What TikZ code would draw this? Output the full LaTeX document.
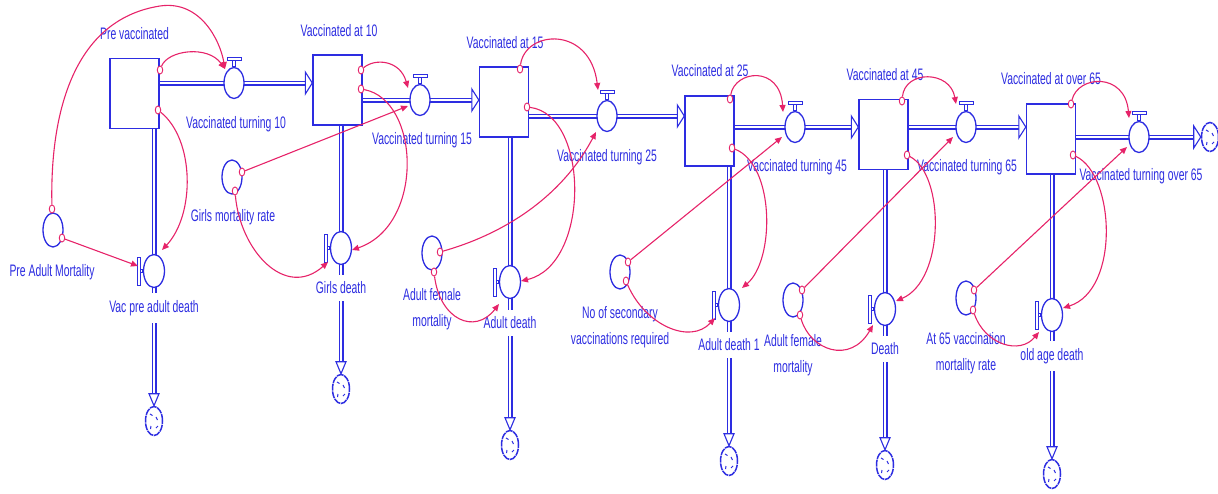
\documentclass[tikz,border=0pt]{standalone}
\usepackage{fontspec}
\setmainfont{Liberation Sans}
\usepackage{graphicx}
\usetikzlibrary{arrows.meta,shapes.geometric,calc,backgrounds}
\definecolor{sfblue}{RGB}{45,45,225}
\definecolor{sfpink}{RGB}{230,35,105}
% labels are set in a vertically stretched sans face
\newcommand{\tall}[1]{\scalebox{1}[1.6]{#1}}
\newcommand{\twolines}[2]{\tall{\begin{tabular}{@{}c@{}}#1\\#2\end{tabular}}}
% valve handle on top of a horizontal flow
\newcommand{\topT}[1]{%
  \draw[handle] ([xshift=-1.5pt]#1.north) rectangle ([xshift=1.5pt,yshift=6pt]#1.north);
  \draw[handle] ([xshift=-7pt,yshift=6pt]#1.north) rectangle ([xshift=7pt,yshift=9pt]#1.north);}
% valve handle on the left of a vertical outflow
\newcommand{\sideT}[1]{%
  \draw[handle] ([xshift=-2.5pt,yshift=-1.5pt]#1.west) rectangle ([yshift=1.5pt]#1.west);
  \draw[handle] ([xshift=-5.5pt,yshift=-14pt]#1.west) rectangle ([xshift=-2.5pt,yshift=14pt]#1.west);}
% little strokes inside a source/sink cloud
\newcommand{\cloudmarks}[1]{%
  \draw[sfblue,line width=1pt] ([xshift=-4pt,yshift=7pt]#1.center) -- ++(2.5,1.5);
  \draw[sfblue,line width=1pt] ([xshift=2pt,yshift=4pt]#1.center) -- ++(1.5,3);
  \draw[sfblue,line width=1pt] ([xshift=-3pt,yshift=-5pt]#1.center) -- ++(-0.5,3);
  \draw[sfblue,line width=1pt] ([xshift=2pt,yshift=-7pt]#1.center) -- ++(2,-2);}
% open arrow tips of the flow pipes
\newcommand{\rtip}[1]{\draw[tip] (#1) -- ++(-7,-11) -- ++(0,22) -- cycle;}
\newcommand{\dtip}[1]{\draw[tip] (#1) -- ++(-5,-12) -- ++(10,0) -- cycle;}

\begin{document}
\begin{tikzpicture}[x=1pt,y=-1pt,
  stock/.style={rectangle,draw=sfblue,line width=1.4pt,fill=white,minimum width=49pt,minimum height=70pt,inner sep=0pt},
  valve/.style={ellipse,draw=sfblue,line width=1.3pt,fill=white,minimum width=20pt,minimum height=31pt,inner sep=0pt},
  dvalve/.style={valve,minimum width=21pt,minimum height=33pt},
  conv/.style={valve,minimum height=34pt},
  cloud/.style={ellipse,draw=sfblue,line width=1.5pt,fill=white,minimum width=17pt,minimum height=29pt,inner sep=0pt,dash pattern=on 7pt off 0.8pt},
  pipe/.style={draw=sfblue,line width=1.3pt,double=white,double distance=2.4pt},
  tip/.style={draw=sfblue,line width=1.1pt,fill=white,line join=miter},
  handle/.style={draw=sfblue,line width=1pt,fill=white},
  origin/.style={ellipse,draw=sfpink,line width=0.9pt,fill=white,minimum width=5.5pt,minimum height=8pt,inner sep=0pt},
  link/.style={draw=sfpink,line width=1.1pt,-{Triangle[length=7pt,width=6pt]}},
  lbl/.style={text=sfblue,fill=white,inner xsep=1pt,inner ysep=5pt,font=\fontsize{10.4}{16.2}\selectfont},
  lblc/.style={lbl,fill=none,inner ysep=0pt}
]
\useasboundingbox (0,0) rectangle (1218,493);

% ---- stocks
\node[stock] (S1) at (134.5,93.5) {};
\node[stock] (S2) at (337.5,90) {};
\node[stock] (S3) at (504,102) {};
\node[stock] (S4) at (709.5,131) {};
\node[stock] (S5) at (883.5,134.5) {};
\node[stock] (S6) at (1051,139) {};

% ---- ageing flows
\node[valve] (V1) at (234,83) {};
\node[valve] (V2) at (420,100) {};
\node[valve] (V3) at (607,116) {};
\node[valve] (V4) at (795,127) {};
\node[valve] (V5) at (966,127) {};
\node[valve] (V6) at (1139,137) {};
\foreach \v in {V1,V2,V3,V4,V5,V6} {\topT{\v}}

% ---- death outflows
\node[dvalve] (D1) at (154,271) {};
\node[dvalve] (D2) at (341,248) {};
\node[dvalve] (D3) at (510,282) {};
\node[dvalve] (D4) at (729,305) {};
\node[dvalve] (D5) at (885,309) {};
\node[dvalve] (D6) at (1052,315) {};
\foreach \d in {D1,D2,D3,D4,D5,D6} {\sideT{\d}}

% ---- sinks
\node[cloud] (K0) at (1210,137) {};
\node[cloud] (K1) at (154,421) {};
\node[cloud] (K2) at (341,389) {};
\node[cloud] (K3) at (510,445) {};
\node[cloud] (K4) at (729,461) {};
\node[cloud] (K5) at (885,465) {};
\node[cloud] (K6) at (1052,474) {};
\foreach \k in {K0,K1,K2,K3,K4,K5,K6} {\cloudmarks{\k}}

% ---- converters
\node[conv] (C1) at (53,230) {};
\node[conv] (C2) at (232,177) {};
\node[conv] (C3) at (432,253) {};
\node[conv] (C4) at (620,272) {};
\node[conv] (C5) at (793,300) {};
\node[conv] (C6) at (966,298) {};

% ---- pipe ends
\coordinate (a1) at (S2.west |- V1);
\coordinate (a2) at (S3.west |- V2);
\coordinate (a3) at (S4.west |- V3);
\coordinate (a4) at (S5.west |- V4);
\coordinate (a5) at (S6.west |- V5);
\coordinate (a6) at (K0.west);

\begin{scope}[on background layer]
  \draw[pipe] (S1.east |- V1) -- ([xshift=-6pt]a1);
  \draw[pipe] (S2.east |- V2) -- ([xshift=-6pt]a2);
  \draw[pipe] (S3.east |- V3) -- ([xshift=-6pt]a3);
  \draw[pipe] (S4.east |- V4) -- ([xshift=-6pt]a4);
  \draw[pipe] (S5.east |- V5) -- ([xshift=-6pt]a5);
  \draw[pipe] (S6.east |- V6) -- ([xshift=-6pt]a6);
  \draw[pipe] (S1.south -| D1) -- ([yshift=11pt]K1.north);
  \draw[pipe] (S2.south -| D2) -- ([yshift=11pt]K2.north);
  \draw[pipe] (S3.south -| D3) -- ([yshift=11pt]K3.north);
  \draw[pipe] (S4.south -| D4) -- ([yshift=11pt]K4.north);
  \draw[pipe] (S5.south -| D5) -- ([yshift=11pt]K5.north);
  \draw[pipe] (S6.south -| D6) -- ([yshift=11pt]K6.north);
\end{scope}
\foreach \a in {a1,a2,a3,a4,a5,a6} {\rtip{\a}}
\foreach \k in {K1,K2,K3,K4,K5,K6} {\dtip{\k.north}}

% ---- labels
\node[lbl] (LS1) at (134.5,34) {\tall{Pre vaccinated}};
\node[lbl] (LS2) at (339,31) {\tall{Vaccinated at 10}};
\node[lbl] (LS3) at (505,43) {\tall{Vaccinated at 15}};
\node[lbl] (LS4) at (710,71) {\tall{Vaccinated at 25}};
\node[lbl] (LS5) at (885,75) {\tall{Vaccinated at 45}};
\node[lbl] (LS6) at (1051,79) {\tall{Vaccinated at over 65}};

\node[lbl] (LV1) at (236,124) {\tall{Vaccinated turning 10}};
\node[lbl] (LV2) at (422,140) {\tall{Vaccinated turning 15}};
\node[lbl] (LV3) at (607,157) {\tall{Vaccinated turning 25}};
\node[lbl] (LV4) at (797,167) {\tall{Vaccinated turning 45}};
\node[lbl] (LV5) at (967,167) {\tall{Vaccinated turning 65}};
\node[lbl] (LV6) at (1141,176) {\tall{Vaccinated turning over 65}};

\node[lbl,inner ysep=7pt] (LD1) at (154,308) {\tall{Vac pre adult death}};
\node[lbl,inner ysep=7pt] (LD2) at (341,288) {\tall{Girls death}};
\node[lbl,inner ysep=7pt] (LD3) at (510,323) {\tall{Adult death}};
\node[lbl,inner ysep=7pt] (LD4) at (729,345) {\tall{Adult death 1}};
\node[lbl,inner ysep=7pt] (LD5) at (885,349) {\tall{Death}};
\node[lbl,inner ysep=7pt] (LD6) at (1052,356) {\tall{old age death}};

\node[lbl] (LC1) at (52,272) {\tall{Pre Adult Mortality}};
\node[lbl] (LC2) at (233,217) {\tall{Girls mortality rate}};
\node[lblc] (LC3) at (432,308.5) {\twolines{Adult female}{mortality}};
\node[lblc] (LC4) at (620,326) {\twolines{No of secondary}{vaccinations required}};
\node[lblc] (LC5) at (793,354.5) {\twolines{Adult female}{mortality}};
\node[lblc] (LC6) at (966,352.5) {\twolines{At 65 vaccination}{mortality rate}};

% ---- connector origins
\node[origin] (o1) at (160,70) {};
\node[origin] (o2) at (52,209) {};
\node[origin] (o3) at (62,238) {};
\node[origin] (o4) at (158,110) {};
\node[origin] (o5) at (242,172) {};
\node[origin] (o6) at (235,191) {};
\node[origin] (o7) at (361,70) {};
\node[origin] (o8) at (361,89) {};
\node[origin] (o9) at (520,69) {};
\node[origin] (o10) at (527,107) {};
\node[origin] (o11) at (440,252) {};
\node[origin] (o12) at (434,272) {};
\node[origin] (o13) at (730,99) {};
\node[origin] (o14) at (732,148) {};
\node[origin] (o15) at (628,262) {};
\node[origin] (o16) at (626,281) {};
\node[origin] (o17) at (902,101) {};
\node[origin] (o18) at (907,155) {};
\node[origin] (o19) at (802,290) {};
\node[origin] (o20) at (800,315) {};
\node[origin] (o21) at (1071,104) {};
\node[origin] (o22) at (1073,155) {};
\node[origin] (o23) at (974,290) {};
\node[origin] (o24) at (973,310) {};

% ---- connector targets at the valves
\coordinate (t1) at (225,69);
\coordinate (t3) at (138,266);
\coordinate (t4) at (162,250);
\coordinate (t5) at (408,106);
\coordinate (t6) at (328,262);
\coordinate (t7) at (408,88);
\coordinate (t8) at (352,250);
\coordinate (t9) at (598,90);
\coordinate (t10) at (521,281);
\coordinate (t11) at (596,132);
\coordinate (t12) at (499,304);
\coordinate (t13) at (783,112);
\coordinate (t14) at (742,288);
\coordinate (t15) at (782,137);
\coordinate (t16) at (715,318);
\coordinate (t17) at (956,104);
\coordinate (t18) at (896,301);
\coordinate (t19) at (953,137);
\coordinate (t20) at (873,325);
\coordinate (t21) at (1129,118);
\coordinate (t22) at (1063,308);
\coordinate (t23) at (1127,147);
\coordinate (t24) at (1039,332);

% ---- connectors
\draw[link] (o1) .. controls (168,50) and (208,45) .. (t1);
\draw[link] (o2) .. controls (50,120) and (70,20) .. (160,6) .. controls (200,0) and (220,40) .. (t1);
\draw[link] (o3) -- (t3);
\draw[link] (o4) .. controls (195,140) and (195,215) .. (t4);
\draw[link] (o5) -- (t5);
\draw[link] (o6) .. controls (240,250) and (285,300) .. (t6);
\draw[link] (o7) .. controls (375,58) and (400,60) .. (t7);
\draw[link] (o8) .. controls (420,100) and (425,225) .. (t8);
\draw[link] (o9) .. controls (525,30) and (590,25) .. (t9);
\draw[link] (o10) .. controls (590,115) and (590,265) .. (t10);
\draw[link] (o11) .. controls (500,235) and (560,200) .. (t11);
\draw[link] (o12) .. controls (440,320) and (475,335) .. (t12);
\draw[link] (o13) .. controls (735,70) and (780,65) .. (t13);
\draw[link] (o14) .. controls (775,165) and (775,260) .. (t14);
\draw[link] (o15) -- (t15);
\draw[link] (o16) .. controls (645,325) and (690,345) .. (t16);
\draw[link] (o17) .. controls (905,70) and (950,70) .. (t17);
\draw[link] (o18) .. controls (945,175) and (945,280) .. (t18);
\draw[link] (o19) -- (t19);
\draw[link] (o20) .. controls (810,350) and (850,365) .. (t20);
\draw[link] (o21) .. controls (1078,75) and (1125,72) .. (t21);
\draw[link] (o22) .. controls (1115,175) and (1120,290) .. (t22);
\draw[link] (o23) -- (t23);
\draw[link] (o24) .. controls (985,345) and (1020,355) .. (t24);
\end{tikzpicture}
\end{document}
